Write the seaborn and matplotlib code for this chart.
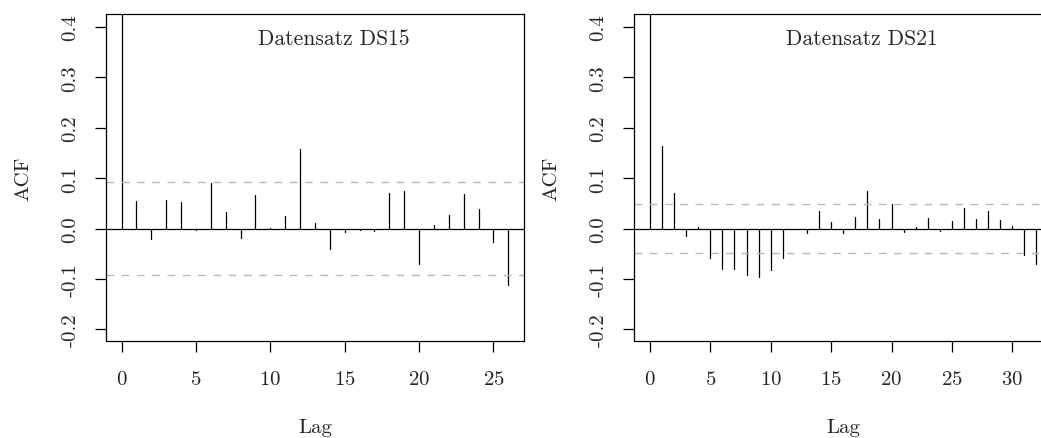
import numpy as np
import pandas as pd
import matplotlib
matplotlib.use("Agg")
import matplotlib.pyplot as plt
import seaborn as sns

# ACF values (lag 0 = 1)
acf_ds15 = [1.0, 0.054, -0.021, 0.056, 0.052, -0.003, 0.091, 0.032, -0.018,
            0.066, 0.001, 0.025, 0.158, 0.011, -0.040, -0.006, -0.002, -0.005,
            0.071, 0.074, -0.070, 0.007, 0.028, 0.068, 0.038, -0.026, -0.111]
acf_ds21 = [1.0, 0.164, 0.070, -0.015, 0.003, -0.058, -0.081, -0.080, -0.092,
            -0.097, -0.083, -0.058, -0.001, -0.009, 0.034, 0.013, -0.009, 0.023,
            0.075, 0.020, 0.049, -0.006, 0.003, 0.021, -0.004, 0.015, 0.040,
            0.019, 0.035, 0.018, 0.006, -0.053, -0.070]
conf_ds15 = 0.092
conf_ds21 = 0.049
titles = ["Datensatz DS15", "Datensatz DS21"]
y_ticks = [-0.2, -0.1, 0.0, 0.1, 0.2, 0.3, 0.4]

sns.set_style("ticks")
plt.rcParams["font.family"] = "cmr10"
plt.rcParams["axes.unicode_minus"] = False
plt.rcParams["mathtext.fontset"] = "cm"
plt.rcParams["axes.formatter.use_mathtext"] = True

fig = plt.figure(figsize=(10.41, 4.39), dpi=100)
ax1 = fig.add_axes([0.1018, 0.2210, 0.4015, 0.7449])
ax2 = fig.add_axes([0.6090, 0.2210, 0.4015, 0.7449])

panels = [
    (ax1, acf_ds15, conf_ds15, titles[0], (-1.05, 27.05), [0, 5, 10, 15, 20, 25]),
    (ax2, acf_ds21, conf_ds21, titles[1], (-1.32, 33.28), [0, 5, 10, 15, 20, 25, 30]),
]

for ax, acf, conf, title, xlim, xt in panels:
    lags = np.arange(len(acf))
    # each lag as a vertical segment from 0 to its ACF value
    stems = pd.DataFrame({
        "lag": np.concatenate([lags, lags]),
        "acf": np.concatenate([np.zeros(len(acf)), acf]),
    })
    sns.lineplot(data=stems, x="lag", y="acf", units="lag", estimator=None,
                 color="black", linewidth=0.9, ax=ax)
    ax.axhline(0, color="black", linewidth=0.9)
    for c in (conf, -conf):
        ax.axhline(c, color="#b8b8b8", linewidth=1.0, dashes=(5.5, 5.5))

    ax.set_xlim(*xlim)
    ax.set_ylim(-0.223, 0.426)
    ax.set_xticks(xt)
    ax.set_yticks(y_ticks)
    ax.set_yticklabels([f"{v:.1f}" for v in y_ticks], rotation=90, va="center")
    ax.tick_params(axis="both", direction="out", length=8, width=0.9,
                   color="black", labelsize=15)
    ax.tick_params(axis="y", pad=11)
    ax.tick_params(axis="x", pad=13)
    for s in ax.spines.values():
        s.set_visible(True)
        s.set_color("black")
        s.set_linewidth(0.9)

    ax.set_xlabel("Lag", fontsize=15)
    ax.set_ylabel("ACF", fontsize=15)
    ax.xaxis.set_label_coords(0.5, -0.235)
    ax.yaxis.set_label_coords(-0.177, 0.5)
    ax.text(0.546, 0.927, title, transform=ax.transAxes, ha="center",
            va="center", fontsize=15.5)

fig.savefig("out.png", dpi=100)
